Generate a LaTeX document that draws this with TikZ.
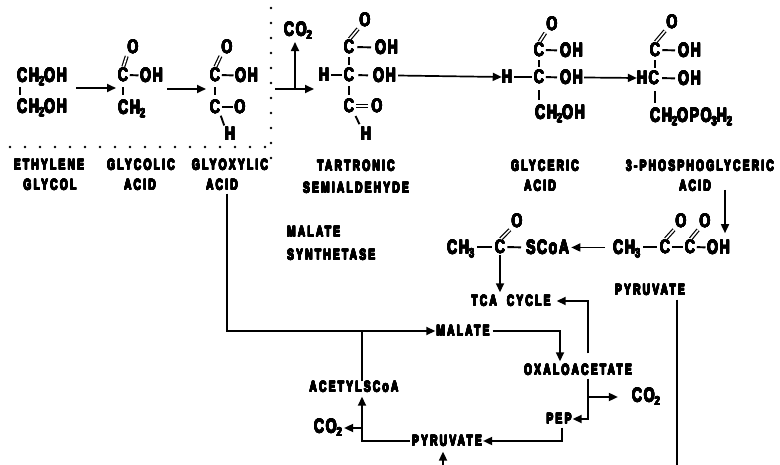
\documentclass[tikz,border=0pt]{standalone}
\usepackage{fontspec}
\usepackage{contour}
\contourlength{0.4pt}
\usetikzlibrary{arrows.meta,calc}
\newfontfamily\chbase{Liberation Sans}[FakeStretch=0.72, LetterSpace=8]
\newfontfamily\lbbase{Liberation Sans}[FakeStretch=0.68, LetterSpace=15]
\newcommand\chf{\chbase\bfseries\fontsize{19.5}{22}\selectfont}
\newcommand\lbf{\lbbase\bfseries\fontsize{15}{17}\selectfont}
\newcommand\chsb[1]{\raisebox{-0.35ex}{\fontsize{13}{13}\selectfont #1}}
\newcommand\T[1]{\contour{black}{#1}}
\tikzset{
  ch/.style={font=\chf, inner sep=0pt},
  lbl/.style={font=\lbf, inner sep=0pt},
  bnd/.style={line width=1.9pt, shorten <=1.5pt, shorten >=1.5pt},
  vb/.style={line width=1.9pt, shorten <=5pt, shorten >=5pt},
  dbl/.style={double, double distance=1.6pt, line width=1.2pt, shorten <=1pt, shorten >=2pt},
  arr/.style={line width=1.7pt, -{Triangle[length=9pt,width=8pt]}},
  ln/.style={line width=1.7pt},
  dots/.style={line width=2.6pt, line cap=round, dash pattern=on 0pt off 15pt},
}
\begin{document}
\begin{tikzpicture}[x=1pt,y=-1pt]
\useasboundingbox (0,0) rectangle (780,465);
% ---------- ethylene glycol
\node[ch,anchor=base west] (eg1) at (17,82) {\T{CH\chsb{2}OH}};
\node[ch,anchor=base west] (eg2) at (17,113) {\T{CH\chsb{2}OH}};
\draw[line width=1.9pt] ($(eg1.base west)+(3,5)$) -- ($(eg2.base west)+(3,-18)$);
% ---------- glycolic acid
\node[ch] (gaO) at (133,47) {\T{O}};
\node[ch] (gaC) at (123,75) {\T{C}};
\node[ch,anchor=base west] (gaOH) at (140,82) {\T{OH}};
\node[ch,anchor=base west] (gaCH) at (118,114) {\T{CH\chsb{2}}};
\draw[dbl] (gaC.north) -- (gaO.south west);
\draw[bnd] (gaC.east) -- (gaOH.west);
\draw[vb] (gaC.south) -- (gaC.south |- gaCH.north);
% ---------- glyoxylic acid
\node[ch] (gxO) at (227,47) {\T{O}};
\node[ch] (gxC1) at (215,75) {\T{C}};
\node[ch,anchor=base west] (gxOH) at (235,82) {\T{OH}};
\node[ch] (gxC2) at (215,107) {\T{C}};
\node[ch] (gxO2) at (240,107) {\T{O}};
\node[ch] (gxH) at (230,134) {\T{H}};
\draw[dbl] (gxC1.north) -- (gxO.south west);
\draw[bnd] (gxC1.east) -- (gxOH.west);
\draw[vb] (gxC1.south) -- (gxC2.north);
\draw[bnd] (gxC2.east) -- (gxO2.west);
\draw[bnd] (gxC2.south east) -- (gxH.north west);
% arrows between first molecules
\coordinate (a1s) at (76,88); \coordinate (a1e) at (116,88);
\draw[arr] (a1s) -- (a1e);
\coordinate (a2s) at (167,89); \coordinate (a2e) at (206,89);
\draw[arr] (a2s) -- (a2e);
% dotted frame
\coordinate (dv1) at (271,8); \coordinate (dv2) at (271,165);
\draw[dots] (dv1) -- (dv2);
\coordinate (dh1) at (10,147); \coordinate (dh2) at (265,147);
\draw[dots] (dh1) -- (dh2);
% decarboxylation
\node[ch] (co2a) at (298,31) {\T{CO\chsb{2}}};
\coordinate (d1) at (275,89); \coordinate (d2) at (314,89); \coordinate (d3) at (295,89);
\draw[arr] (d1) -- (d2);
\draw[arr, shorten >=2pt] (d3) -- (d3 |- co2a.south);
% ---------- tartronic semialdehyde
\node[ch] (tsO) at (365,20) {\T{O}};
\node[ch] (tsC1) at (349,47) {\T{C}};
\node[ch,anchor=base west] (tsOH1) at (375,54) {\T{OH}};
\node[ch] (tsH) at (324,75) {\T{H}};
\node[ch] (tsC2) at (349,75) {\T{C}};
\node[ch,anchor=base west] (tsOH2) at (373,82) {\T{OH}};
\node[ch] (tsC3) at (349,106) {\T{C}};
\node[ch] (tsO3) at (377,106) {\T{O}};
\node[ch] (tsH3) at (366,134) {\T{H}};
\draw[dbl] (tsC1.north) -- (tsO.south west);
\draw[bnd, shorten <=3pt, shorten >=4pt] (tsC1.east) -- (tsOH1.west);
\draw[vb, shorten <=3pt, shorten >=3pt] (tsC1.south) -- (tsC2.north);
\draw[bnd] (tsH.east) -- (tsC2.west);
\draw[bnd, shorten <=4pt, shorten >=5pt] (tsC2.east) -- (tsOH2.west);
\draw[vb, shorten <=4pt, shorten >=4pt] (tsC2.south) -- (tsC3.north);
\draw[dbl, shorten <=2pt, shorten >=3pt] (tsC3.east) -- (tsO3.west);
\draw[bnd, shorten <=3pt, shorten >=3pt] (tsC3.south east) -- (tsH3.north west);
% ---------- glyceric acid
\node[ch] (gcO) at (552,24) {\T{O}};
\node[ch] (gcC1) at (539,50) {\T{C}};
\node[ch,anchor=base west] (gcOH1) at (560,57) {\T{OH}};
\node[ch] (gcH) at (507,77) {\T{H}};
\node[ch] (gcC2) at (539,77) {\T{C}};
\node[ch,anchor=base west] (gcOH2) at (560,84) {\T{OH}};
\node[ch,anchor=base west] (gcCH) at (535,119) {\T{CH\chsb{2}OH}};
\draw[dbl] (gcC1.north) -- (gcO.south west);
\draw[bnd, shorten >=3pt] (gcC1.east) -- (gcOH1.west);
\draw[vb, shorten <=3pt, shorten >=3pt] (gcC1.south) -- (gcC2.north);
\draw[bnd] (gcH.east) -- (gcC2.west);
\draw[bnd, shorten >=3pt] (gcC2.east) -- (gcOH2.west);
\draw[vb, shorten <=6pt, shorten >=5pt] (gcC2.south) -- (gcC2.south |- gcCH.north);
\draw[arr, shorten <=2pt] (tsOH2.east) -- (gcH.west);
% ---------- 3-phosphoglyceric acid
\node[ch] (pgO) at (672,22) {\T{O}};
\node[ch] (pgC1) at (655,50) {\T{C}};
\node[ch,anchor=base west] (pgOH1) at (678,57) {\T{OH}};
\node[ch] (pgHC) at (648,78) {\T{HC}};
\node[ch,anchor=base west] (pgOH2) at (678,85) {\T{OH}};
\node[ch,anchor=base west] (pgCH) at (650,122) {\T{CH\chsb{2}OPO\chsb{3}H\chsb{2}}};
\draw[dbl] (pgC1.north) -- (pgO.south west);
\draw[bnd, shorten <=2pt, shorten >=3pt] (pgC1.east) -- (pgOH1.west);
\draw[vb, shorten <=3pt, shorten >=3pt] (pgC1.south) -- (pgC1.south |- pgHC.north);
\draw[bnd, shorten <=3pt, shorten >=3pt] (pgHC.east) -- (pgOH2.west);
\draw[vb, shorten <=6pt, shorten >=5pt] (pgC1.south |- pgHC.south) -- (pgC1.south |- pgCH.north);
\draw[arr, shorten <=1pt] (gcOH2.east) -- (pgHC.west);
% ---------- labels
\node[lbl] (lEG1) at (49,165) {\T{ETHYLENE}};
\node[lbl] (lEG2) at (50,185) {\T{GLYCOL}};
\node[lbl] (lGA1) at (141,165) {\T{GLYCOLIC}};
\node[lbl] (lGA2) at (140,185) {\T{ACID}};
\node[lbl] (lGX1) at (230,165) {\T{GLYOXYLIC}};
\node[lbl] (lGX2) at (222,185) {\T{ACID}};
\node[lbl] (lTS1) at (356,166) {\T{TARTRONIC}};
\node[lbl] (lTS2) at (356,188) {\T{SEMIALDEHYDE}};
\node[lbl] (lGC1) at (545,166) {\T{GLYCERIC}};
\node[lbl] (lGC2) at (540,186) {\T{ACID}};
\node[lbl] (lPG1) at (700,166) {\T{3-PHOSPHOGLYCERIC}};
\node[lbl] (lPG2) at (695,186) {\T{ACID}};
\node[lbl,anchor=west] (lMS1) at (287,232) {\T{MALATE}};
\node[lbl,anchor=west] (lMS2) at (287,255) {\T{SYNTHETASE}};
% ---------- acetyl-CoA and pyruvate structures
\node[ch,anchor=base west] (acCH) at (447,254) {\T{CH\chsb{3}}};
\node[ch] (acC) at (500,247) {\T{C}};
\node[ch] (acO) at (517,221) {\T{O}};
\node[ch,anchor=base west] (acS) at (526,254) {\T{SCoA}};
\draw[bnd, shorten <=3pt, shorten >=3pt] (acCH.east |- acC) -- (acC.west);
\draw[bnd, shorten <=2pt, shorten >=5pt] (acC.east) -- (acS.west);
\draw[dbl] (acC.north) -- (acO.south west);
\node[ch,anchor=base west] (pyCH) at (613,254) {\T{CH\chsb{3}}};
\node[ch] (pyC1) at (665,247) {\T{C}};
\node[ch] (pyO1) at (681,221) {\T{O}};
\node[ch] (pyC2) at (690,247) {\T{C}};
\node[ch] (pyO2) at (705,221) {\T{O}};
\node[ch,anchor=base west] (pyOH) at (707,254) {\T{OH}};
\draw[bnd, shorten <=3pt, shorten >=3pt] (pyCH.east |- pyC1) -- (pyC1.west);
\draw[bnd] (pyC1.east) -- (pyC2.west);
\draw[bnd] (pyC2.east) -- (pyOH.west);
\draw[dbl] (pyC1.north) -- (pyO1.south west);
\draw[dbl] (pyC2.north) -- (pyO2.south west);
\draw[arr, shorten <=8pt, shorten >=2pt] (pyCH.west |- acS) -- (acS.east);
\coordinate (p1) at (725,190);
\draw[arr, shorten >=7pt] (p1) -- (p1 |- pyOH.north);
% ---------- cycle
\node[lbl] (tca) at (511,301) {\T{TCA\hspace{10pt}CYCLE}};
\node[lbl] (pyr2) at (650,290) {\T{PYRUVATE}};
\coordinate (pyrR) at (677,465);
\draw[ln, shorten <=4pt] (pyr2.south -| pyrR) -- (pyrR);
\draw[arr, shorten <=1pt, shorten >=3pt] (acC.south) -- (acC.south |- tca.north);
\node[lbl] (mal) at (463,331) {\T{MALATE}};
\node[lbl] (oaa) at (578,370) {\T{OXALOACETATE}};
\node[lbl] (pep) at (559,419) {\T{PEP}};
\node[lbl] (pyr3) at (447,441) {\T{PYRUVATE}};
\node[lbl] (acs) at (354,387) {\T{ACETYLSCoA}};
\node[ch] (co2b) at (646,397) {\T{CO\chsb{2}}};
\node[ch] (co2c) at (328,428) {\T{CO\chsb{2}}};
\draw[arr, shorten <=3pt, shorten >=1pt] (lGX2.south -| gxO) -- (gxO |- mal.west) -- (mal.west);
\draw[ln] ([xshift=8pt]acs.north) -- ([xshift=8pt]acs.north |- mal.west);
\draw[arr, shorten <=3pt, shorten >=3pt] (mal.east) -| ([xshift=-18pt]oaa.north);
\draw[arr, shorten <=11pt, shorten >=6pt] ([xshift=10pt]oaa.north) |- (tca.east);
\draw[arr, shorten <=3pt, shorten >=1pt] ([xshift=10pt]oaa.south) |- (pep.east);
\draw[arr, shorten >=14pt] ([xshift=10pt]oaa.south |- co2b.west) -- (co2b.west);
\draw[arr, shorten <=3pt, shorten >=1pt] ([xshift=3pt]pep.south) |- (pyr3.east);
\coordinate (pb) at (443,465);
\draw[arr, shorten >=5pt] (pb) -- (pb |- pyr3.south);
\draw[arr, shorten <=2pt, shorten >=4pt] (pyr3.west) -| ([xshift=8pt]acs.south);
\draw[arr, shorten >=2pt] ([xshift=8pt]acs.south |- co2c.east) -- (co2c.east);
\end{tikzpicture}
\end{document}
